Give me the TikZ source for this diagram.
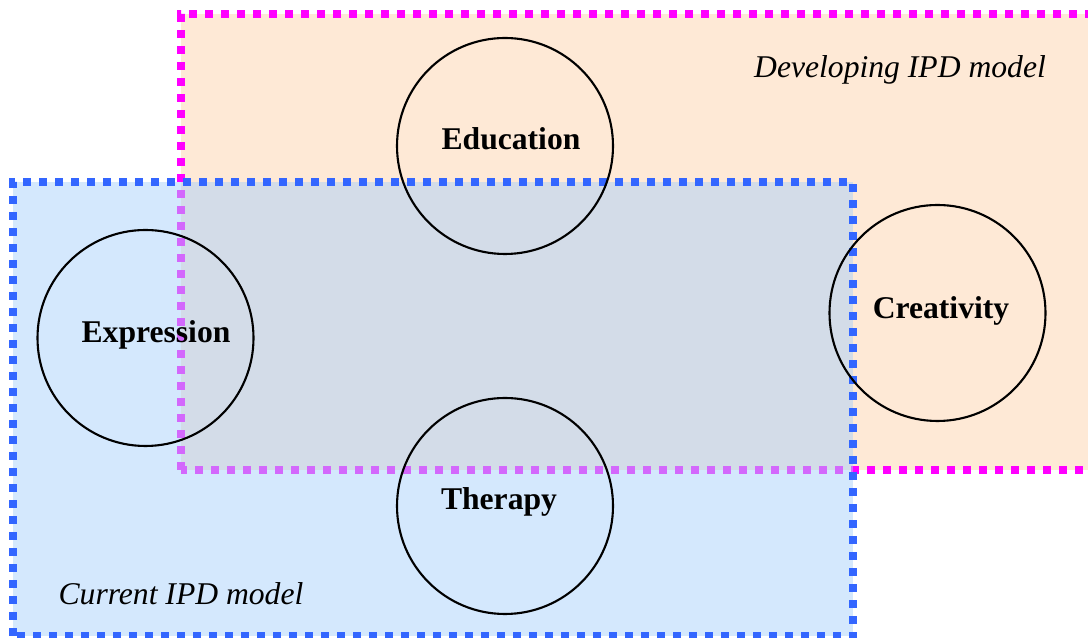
\documentclass[tikz,border=0pt]{standalone}
\usepackage{fontspec}
\setmainfont{Liberation Serif}
\usepackage{xcolor}
\usepackage{tikz}
\usetikzlibrary{positioning}
\definecolor{devOrange}{RGB}{254,233,214}
\definecolor{devMagenta}{RGB}{255,0,255}
\definecolor{curBlue}{RGB}{51,102,255}
\definecolor{curFill}{RGB}{169,209,251}

\begin{document}
\begin{tikzpicture}[
  dotframe/.style={line width=0.08cm, dash pattern=on 0.08cm off 0.08cm},
  bubble/.style={circle, draw=black, line width=0.6pt, inner sep=0pt, minimum size=2.16cm},
  tag/.style={anchor=base, font=\fontsize{9}{11}\selectfont\bfseries},
  model/.style={anchor=base, font=\fontsize{9}{11}\selectfont\itshape}]
\clip (0,0) rectangle (10.88,6.38);
% developing model, runs past the right edge
\fill[devOrange] (1.81,1.68) rectangle (11.2,6.24);
\draw[dotframe, devMagenta] (1.81,1.68) rectangle (11.2,6.24);
% current model, see-through over the other one
\fill[curFill, fill opacity=0.5] (0.13,0.02) rectangle (8.53,4.56);
\draw[dotframe, curBlue] (0.13,0.02) rectangle (8.53,4.56);
\node[model] (devlbl) at (9.00,5.60) {Developing IPD model};
\node[model] (curlbl) at (1.81,0.33) {Current IPD model};
\node[bubble] (edu) at (5.05,4.92) {};
\node[bubble] (expr) at (1.455,3.00) {};
\node[bubble] (crea) at (9.375,3.25) {};
\node[bubble] (ther) at (5.05,1.32) {};
\node[tag] (edulbl) at (5.11,4.88) {Education};
\node[tag] (exprlbl) at (1.56,2.95) {Expression};
\node[tag] (crealbl) at (9.41,3.19) {Creativity};
\node[tag] (therlbl) at (4.99,1.28) {Therapy};
\end{tikzpicture}
\end{document}
